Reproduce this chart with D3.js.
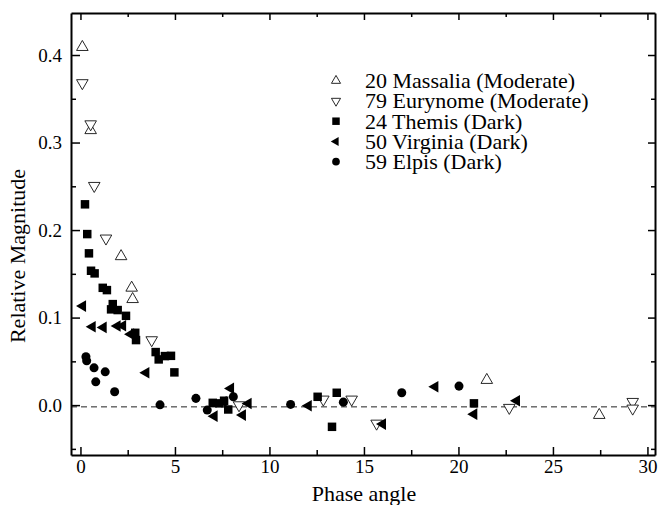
<!DOCTYPE html>
<html>
<head>
<meta charset="utf-8">
<script src="https://cdn.jsdelivr.net/npm/d3@7"></script>
<style>
  body { margin: 0; background: #fff; }
  text { font-family: "Liberation Serif", "Times New Roman", serif; fill: #000; }
</style>
</head>
<body>
<div id="chart"></div>
<script>
// phase angle / relative magnitude pairs
var massalia = [[0.1,0.409],[0.54,0.314],[2.15,0.170],[2.71,0.134],[2.76,0.121],[21.5,0.0286],[27.45,-0.0114]];
var eurynome = [[0.1,0.368],[0.54,0.321],[0.73,0.2506],[1.35,0.1905],[3.77,0.0743],[8.39,0.0],[12.85,0.0065],
  [14.35,0.0065],[15.67,-0.021],[22.69,-0.003],[29.22,0.0038],[29.22,-0.0038]];
var themis = [[0.24,0.2294],[0.36,0.1954],[0.45,0.1734],[0.56,0.1535],[0.75,0.1505],[1.18,0.134],[1.40,0.1314],
  [1.71,0.1154],[1.62,0.1094],[1.97,0.1086],[2.41,0.102],[2.90,0.0826],[2.94,0.0743],[3.98,0.0606],[4.14,0.0522],
  [4.47,0.056],[4.79,0.0563],[4.97,0.0374],[7.0,0.0026],[7.35,0.002],[7.6,0.005],[7.82,-0.005],[12.55,0.0095],
  [13.56,0.0141],[13.31,-0.0248],[20.82,0.002]];
var virginia = [[0.12,0.1131],[0.63,0.0895],[1.21,0.0888],[1.95,0.0903],[2.24,0.0906],[2.66,0.0811],[3.47,0.0369],
  [7.08,-0.0126],[7.56,0.0038],[7.95,0.0191],[8.58,-0.0114],[8.88,0.0019],[12.06,-0.0008],[15.99,-0.0217],
  [18.76,0.0209],[20.82,-0.0103],[23.08,0.0049]];
var elpis = [[0.29,0.0552],[0.33,0.0506],[0.72,0.0426],[0.81,0.0266],[1.31,0.038],[1.81,0.0152],[4.21,0.0003],
  [6.11,0.0077],[6.71,-0.0057],[8.09,0.0095],[11.12,0.0008],[13.91,0.0034],[17.0,0.0141],[20.03,0.0217]];

var seriesNames = ["20 Massalia (Moderate)", "79 Eurynome (Moderate)", "24 Themis (Dark)", "50 Virginia (Dark)", "59 Elpis (Dark)"];
var xTicks = [0, 5, 10, 15, 20, 25, 30];
var yTicks = [0.0, 0.1, 0.2, 0.3, 0.4];
var refLevel = -0.002;

var series = [
  {name: seriesNames[0], data: massalia, shape: d3.symbolTriangle, rot: 0, open: true},
  {name: seriesNames[1], data: eurynome, shape: d3.symbolTriangle, rot: 180, open: true},
  {name: seriesNames[2], data: themis, shape: d3.symbolSquare, rot: 0, open: false},
  {name: seriesNames[3], data: virginia, shape: d3.symbolTriangle, rot: -90, open: false},
  {name: seriesNames[4], data: elpis, shape: d3.symbolCircle, rot: 0, open: false}
];
var sizes = {triangle: 58, square: 72, circle: 64};

var margin = {top: 13, right: 3, bottom: 50, left: 71},
    width = 658 - margin.left - margin.right,
    height = 505 - margin.top - margin.bottom;

var svg = d3.select("#chart").append("svg")
    .attr("width", 658)
    .attr("height", 505)
  .append("g")
    .attr("transform", "translate(" + margin.left + "," + margin.top + ")");

var x = d3.scaleLinear().domain([-0.5, 30.4]).range([0, width]);
var y = d3.scaleLinear().domain([-0.057, 0.448]).range([height, 0]);

// dashed reference line
svg.append("line")
    .attr("x1", 0).attr("x2", width)
    .attr("y1", y(refLevel)).attr("y2", y(refLevel))
    .attr("stroke", "#222")
    .attr("stroke-width", 1)
    .attr("stroke-dasharray", "6,4");

function sizeOf(s) {
  if (s.shape === d3.symbolSquare) return sizes.square;
  if (s.shape === d3.symbolCircle) return sizes.circle;
  return sizes.triangle;
}

series.forEach(function(s) {
  svg.selectAll(null)
    .data(s.data)
    .enter()
    .append("path")
    .attr("d", d3.symbol().type(s.shape).size(sizeOf(s)))
    .attr("transform", function(d) {
      return "translate(" + x(d[0]) + "," + y(d[1]) + ") rotate(" + s.rot + ")";
    })
    .attr("fill", s.open ? "#fff" : "#000")
    .attr("stroke", s.open ? "#111" : "none")
    .attr("stroke-width", 0.9);
});

// axes: ticks pointing inward on all four sides
var xMinor = d3.range(2.5, 30, 5);
var yMinor = [-0.05, 0.05, 0.15, 0.25, 0.35];

svg.append("g")
    .attr("transform", "translate(0," + height + ")")
    .call(d3.axisBottom(x).tickValues(xTicks).tickFormat(d3.format("d")).tickSizeInner(-8).tickSizeOuter(0).tickPadding(5))
    .call(function(g) {
      g.select(".domain").attr("stroke-width", 2);
      g.selectAll(".tick line").attr("stroke-width", 1.5);
      g.selectAll("text").style("font-size", "19px").style("font-family", "Liberation Serif");
    });
svg.append("g")
    .attr("transform", "translate(0," + height + ")")
    .call(d3.axisBottom(x).tickValues(xMinor).tickFormat("").tickSizeInner(-5).tickSizeOuter(0))
    .call(function(g) { g.select(".domain").remove(); g.selectAll(".tick line").attr("stroke-width", 1.5); });

svg.append("g")
    .call(d3.axisTop(x).tickValues(xTicks).tickFormat("").tickSizeInner(-7).tickSizeOuter(0))
    .call(function(g) { g.select(".domain").attr("stroke-width", 2); g.selectAll(".tick line").attr("stroke-width", 1.5); });
svg.append("g")
    .call(d3.axisTop(x).tickValues(xMinor).tickFormat("").tickSizeInner(-4).tickSizeOuter(0))
    .call(function(g) { g.select(".domain").remove(); g.selectAll(".tick line").attr("stroke-width", 1.5); });

svg.append("g")
    .call(d3.axisLeft(y).tickValues(yTicks).tickFormat(d3.format(".1f")).tickSizeInner(-9).tickSizeOuter(0).tickPadding(9))
    .call(function(g) {
      g.select(".domain").attr("stroke-width", 2);
      g.selectAll(".tick line").attr("stroke-width", 1.5);
      g.selectAll("text").style("font-size", "19px").style("font-family", "Liberation Serif");
    });
svg.append("g")
    .call(d3.axisLeft(y).tickValues(yMinor).tickFormat("").tickSizeInner(-5).tickSizeOuter(0))
    .call(function(g) { g.select(".domain").remove(); g.selectAll(".tick line").attr("stroke-width", 1.5); });

svg.append("g")
    .attr("transform", "translate(" + width + ",0)")
    .call(d3.axisRight(y).tickValues(yTicks).tickFormat("").tickSizeInner(-7).tickSizeOuter(0))
    .call(function(g) { g.select(".domain").attr("stroke-width", 2); g.selectAll(".tick line").attr("stroke-width", 1.5); });
svg.append("g")
    .attr("transform", "translate(" + width + ",0)")
    .call(d3.axisRight(y).tickValues(yMinor).tickFormat("").tickSizeInner(-4).tickSizeOuter(0))
    .call(function(g) { g.select(".domain").remove(); g.selectAll(".tick line").attr("stroke-width", 1.5); });

// axis titles
svg.append("text")
    .attr("x", width / 2 + 1)
    .attr("y", height + 46)
    .attr("text-anchor", "middle")
    .style("font-size", "22px")
    .text("Phase angle");

svg.append("text")
    .attr("transform", "rotate(-90)")
    .attr("x", -(256 - margin.top))
    .attr("y", 25 - margin.left)
    .attr("text-anchor", "middle")
    .style("font-size", "22px")
    .text("Relative Magnitude");

// legend
var legend = svg.append("g")
    .attr("transform", "translate(" + (336 - margin.left) + "," + (80.7 - margin.top) + ")");

series.forEach(function(s, i) {
  var row = legend.append("g").attr("transform", "translate(0," + (i * 20.25) + ")");
  var sz = s.shape === d3.symbolSquare ? 56 : (s.shape === d3.symbolCircle ? 46 : 36);
  row.append("path")
    .attr("d", d3.symbol().type(s.shape).size(sz))
    .attr("transform", "rotate(" + s.rot + ")")
    .attr("fill", s.open ? "#fff" : "#000")
    .attr("stroke", s.open ? "#111" : "none")
    .attr("stroke-width", 0.9);
  row.append("text")
    .attr("x", 29)
    .attr("y", 7.5)
    .style("font-size", "22px")
    .text(s.name);
});
</script>
</body>
</html>
